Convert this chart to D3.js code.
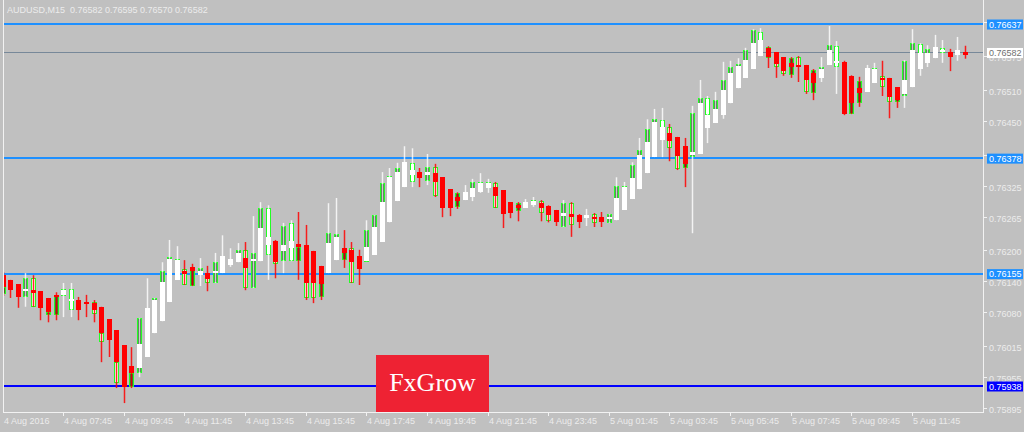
<!DOCTYPE html>
<html><head><meta charset="utf-8">
<script src="https://cdn.jsdelivr.net/npm/d3@7"></script>
<style>html,body{margin:0;padding:0;background:#c0c0c0;overflow:hidden}svg{display:block}</style>
</head><body>
<script>
// ---- data (AUDUSD M15) ----
const symbolTitle = "AUDUSD,M15  0.76582 0.76595 0.76570 0.76582";
const high = [0.76158,0.76143,0.76135,0.76156,0.76152,0.76121,0.76108,0.76119,0.76137,0.76137,0.76110,0.76114,0.76104,0.76091,0.76067,0.76046,0.76017,0.76013,0.76069,0.76146,0.76108,0.76177,0.76220,0.76208,0.76181,0.76174,0.76185,0.76170,0.76195,0.76229,0.76204,0.76214,0.76216,0.76266,0.76293,0.76287,0.76220,0.76253,0.76258,0.76274,0.76249,0.76199,0.76170,0.76291,0.76301,0.76239,0.76216,0.76201,0.76258,0.76268,0.76351,0.76359,0.76369,0.76401,0.76397,0.76359,0.76386,0.76367,0.76341,0.76318,0.76312,0.76326,0.76338,0.76349,0.76338,0.76332,0.76316,0.76293,0.76293,0.76299,0.76303,0.76297,0.76287,0.76278,0.76297,0.76293,0.76270,0.76280,0.76272,0.76274,0.76270,0.76341,0.76332,0.76370,0.76417,0.76453,0.76473,0.76475,0.76444,0.76419,0.76417,0.76479,0.76529,0.76498,0.76506,0.76564,0.76566,0.76571,0.76591,0.76627,0.76629,0.76594,0.76583,0.76573,0.76573,0.76575,0.76558,0.76550,0.76573,0.76633,0.76604,0.76566,0.76538,0.76535,0.76558,0.76562,0.76566,0.76533,0.76515,0.76567,0.76627,0.76600,0.76596,0.76616,0.76606,0.76589,0.76612,0.76595];
const low = [0.76112,0.76108,0.76089,0.76091,0.76091,0.76065,0.76061,0.76065,0.76071,0.76071,0.76065,0.76071,0.76061,0.75984,0.75994,0.75934,0.75905,0.75934,0.75955,0.75994,0.76040,0.76063,0.76100,0.76143,0.76133,0.76131,0.76131,0.76121,0.76137,0.76156,0.76168,0.76177,0.76123,0.76127,0.76179,0.76143,0.76146,0.76156,0.76179,0.76143,0.76104,0.76098,0.76104,0.76156,0.76181,0.76166,0.76137,0.76133,0.76179,0.76191,0.76216,0.76254,0.76295,0.76322,0.76322,0.76322,0.76326,0.76303,0.76264,0.76266,0.76280,0.76297,0.76295,0.76311,0.76311,0.76282,0.76243,0.76262,0.76256,0.76282,0.76284,0.76256,0.76254,0.76247,0.76245,0.76226,0.76243,0.76247,0.76245,0.76245,0.76253,0.76258,0.76278,0.76299,0.76318,0.76349,0.76380,0.76380,0.76372,0.76355,0.76322,0.76233,0.76386,0.76407,0.76446,0.76454,0.76484,0.76513,0.76533,0.76550,0.76575,0.76552,0.76533,0.76537,0.76533,0.76525,0.76502,0.76490,0.76525,0.76558,0.76502,0.76461,0.76463,0.76477,0.76506,0.76523,0.76498,0.76455,0.76475,0.76475,0.76515,0.76537,0.76554,0.76571,0.76562,0.76546,0.76566,0.76570];
// Heiken Ashi open / close
const haOpen = [0.76152,0.76143,0.76135,0.76121,0.76123,0.76121,0.76108,0.76114,0.76114,0.76102,0.76104,0.76100,0.76098,0.76091,0.76067,0.76046,0.76017,0.75977,0.75972,0.75994,0.76040,0.76063,0.76100,0.76143,0.76160,0.76168,0.76152,0.76156,0.76156,0.76156,0.76172,0.76177,0.76185,0.76179,0.76179,0.76210,0.76218,0.76199,0.76204,0.76212,0.76210,0.76199,0.76170,0.76156,0.76181,0.76204,0.76201,0.76189,0.76179,0.76191,0.76216,0.76254,0.76295,0.76322,0.76345,0.76351,0.76345,0.76349,0.76341,0.76318,0.76303,0.76297,0.76303,0.76312,0.76320,0.76322,0.76316,0.76293,0.76287,0.76282,0.76287,0.76291,0.76285,0.76278,0.76266,0.76270,0.76268,0.76262,0.76264,0.76264,0.76260,0.76258,0.76278,0.76299,0.76318,0.76349,0.76380,0.76413,0.76426,0.76419,0.76401,0.76384,0.76386,0.76436,0.76446,0.76461,0.76484,0.76513,0.76533,0.76550,0.76575,0.76591,0.76583,0.76573,0.76562,0.76558,0.76558,0.76542,0.76533,0.76558,0.76562,0.76564,0.76537,0.76513,0.76506,0.76523,0.76533,0.76533,0.76515,0.76502,0.76515,0.76550,0.76562,0.76571,0.76583,0.76583,0.76577,0.76583];
const haClose = [0.76129,0.76123,0.76110,0.76125,0.76118,0.76089,0.76081,0.76110,0.76123,0.76106,0.76085,0.76096,0.76085,0.76040,0.76027,0.75984,0.75936,0.75963,0.76019,0.76089,0.76104,0.76139,0.76183,0.76181,0.76154,0.76160,0.76160,0.76145,0.76160,0.76189,0.76183,0.76195,0.76166,0.76183,0.76243,0.76226,0.76177,0.76210,0.76218,0.76206,0.76137,0.76137,0.76135,0.76214,0.76226,0.76195,0.76177,0.76164,0.76206,0.76245,0.76293,0.76341,0.76351,0.76370,0.76355,0.76339,0.76351,0.76332,0.76282,0.76282,0.76295,0.76312,0.76320,0.76330,0.76330,0.76305,0.76270,0.76272,0.76282,0.76293,0.76295,0.76282,0.76268,0.76255,0.76272,0.76264,0.76255,0.76268,0.76260,0.76255,0.76264,0.76301,0.76322,0.76339,0.76384,0.76409,0.76448,0.76438,0.76411,0.76382,0.76367,0.76390,0.76484,0.76461,0.76473,0.76510,0.76542,0.76556,0.76567,0.76600,0.76606,0.76573,0.76560,0.76546,0.76554,0.76554,0.76529,0.76523,0.76550,0.76587,0.76566,0.76463,0.76484,0.76504,0.76552,0.76550,0.76529,0.76496,0.76490,0.76529,0.76587,0.76581,0.76581,0.76593,0.76587,0.76573,0.76587,0.76577];
// real candle open / close
const open = [0.76116,0.76139,0.76131,0.76110,0.76146,0.76118,0.76075,0.76075,0.76112,0.76125,0.76085,0.76098,0.76100,0.76040,0.76056,0.75984,0.75940,0.75936,0.75963,0.76069,0.76089,0.76108,0.76164,0.76177,0.76164,0.76131,0.76152,0.76156,0.76137,0.76162,0.76172,0.76177,0.76201,0.76127,0.76191,0.76282,0.76210,0.76179,0.76253,0.76179,0.76210,0.76195,0.76110,0.76172,0.76201,0.76181,0.76204,0.76185,0.76177,0.76210,0.76249,0.76297,0.76326,0.76336,0.76369,0.76349,0.76334,0.76361,0.76305,0.76301,0.76284,0.76299,0.76307,0.76316,0.76320,0.76330,0.76312,0.76289,0.76276,0.76284,0.76289,0.76295,0.76282,0.76274,0.76245,0.76291,0.76266,0.76262,0.76270,0.76262,0.76253,0.76262,0.76297,0.76316,0.76355,0.76384,0.76423,0.76452,0.76438,0.76413,0.76359,0.76380,0.76461,0.76494,0.76455,0.76471,0.76519,0.76533,0.76548,0.76567,0.76621,0.76593,0.76577,0.76567,0.76538,0.76573,0.76552,0.76504,0.76537,0.76564,0.76594,0.76558,0.76463,0.76484,0.76525,0.76538,0.76537,0.76529,0.76486,0.76498,0.76558,0.76598,0.76567,0.76575,0.76591,0.76581,0.76579,0.76582];
const close = [0.76129,0.76123,0.76110,0.76146,0.76091,0.76089,0.76081,0.76112,0.76125,0.76085,0.76098,0.76100,0.76077,0.76023,0.76027,0.75944,0.75959,0.75963,0.76069,0.76085,0.76108,0.76160,0.76187,0.76183,0.76133,0.76168,0.76166,0.76137,0.76177,0.76185,0.76181,0.76201,0.76127,0.76195,0.76282,0.76191,0.76174,0.76247,0.76179,0.76206,0.76108,0.76108,0.76150,0.76233,0.76231,0.76204,0.76137,0.76166,0.76239,0.76268,0.76330,0.76343,0.76359,0.76365,0.76332,0.76341,0.76361,0.76305,0.76282,0.76285,0.76310,0.76310,0.76332,0.76332,0.76332,0.76282,0.76274,0.76276,0.76291,0.76291,0.76297,0.76272,0.76256,0.76258,0.76291,0.76249,0.76256,0.76268,0.76253,0.76256,0.76270,0.76324,0.76324,0.76365,0.76394,0.76434,0.76453,0.76436,0.76398,0.76357,0.76374,0.76465,0.76494,0.76461,0.76490,0.76529,0.76554,0.76560,0.76587,0.76625,0.76604,0.76571,0.76554,0.76540,0.76571,0.76554,0.76506,0.76548,0.76554,0.76596,0.76554,0.76463,0.76500,0.76527,0.76552,0.76552,0.76515,0.76486,0.76500,0.76566,0.76600,0.76567,0.76589,0.76591,0.76581,0.76575,0.76585,0.76582];
// horizontal levels
const levels = [0.76637, 0.76378, 0.76155, 0.75938];
const bidPrice = 0.76582;
const priceTicks = [0.76640,0.76575,0.76510,0.76450,0.76385,0.76325,0.76265,0.76200,0.76140,0.76080,0.76015,0.75955,0.75895];
const timeTickIndex = [0,8,16,24,32,40,48,56,64,72,80,88,96,104,112,120];
const timeTickLabels = ["4 Aug 2016","4 Aug 07:45","4 Aug 09:45","4 Aug 11:45","4 Aug 13:45","4 Aug 15:45","4 Aug 17:45","4 Aug 19:45","4 Aug 21:45","4 Aug 23:45","5 Aug 01:45","5 Aug 03:45","5 Aug 05:45","5 Aug 07:45","5 Aug 09:45","5 Aug 11:45"];
const brand = "FxGrow";

// ---- drawing ----
const W = 1024, H = 432;
const L = 3, R = 983, T = 0, B = 412;
const FONT = "'Liberation Sans', Arial, sans-serif";
const TXT = "#ececec";

const svg = d3.select("body").append("svg").attr("width", W).attr("height", H);
svg.append("rect").attr("width", W).attr("height", H).attr("fill", "#c0c0c0");

const x = d3.scaleLinear().domain([8, 120]).range([63.2, 912]);
const y = d3.scaleLinear().domain([0.75938, 0.76637]).range([386, 24]);

svg.append("defs").append("clipPath").attr("id", "clip")
  .append("rect").attr("x", L + 1).attr("y", T).attr("width", R - L - 1).attr("height", B - T);

const fmt = d3.format(".5f");

// title
svg.append("text").attr("x", 7).attr("y", 13).attr("font-family", FONT).attr("font-size", 9)
  .attr("fill", TXT).attr("xml:space", "preserve").style("white-space", "pre").text(symbolTitle);

// level lines
const levelColor = ["#1e90ff", "#1e90ff", "#1e90ff", "#0000ff"];
const lv = svg.append("g");
levels.forEach((p, k) => {
  const yy = Math.round(y(p));
  lv.append("line").attr("x1", L).attr("x2", R).attr("y1", yy).attr("y2", yy)
    .attr("stroke", levelColor[k]).attr("stroke-width", 2);
});
const by = Math.round(y(bidPrice)) + 0.5;
lv.append("line").attr("x1", L).attr("x2", R).attr("y1", by).attr("y2", by)
  .attr("stroke", "#778899").attr("stroke-width", 1);

const n = high.length;
const idx = d3.range(n);
const cg = svg.append("g").attr("clip-path", "url(#clip)");

// real candles (behind)
idx.forEach(i => {
  const cx = Math.round(x(i));
  const top = Math.round(y(Math.max(open[i], close[i])));
  const bot = Math.round(y(Math.min(open[i], close[i])));
  const h = Math.max(bot - top, 1);
  const bull = close[i] >= open[i];
  cg.append("rect").attr("x", cx - 1.5).attr("y", top + 0.5).attr("width", 4).attr("height", Math.max(h - 1, 0.5))
    .attr("fill", bull ? "#3d6b3d" : "#ffffff").attr("stroke", "#22ff22").attr("stroke-width", 1);
  if (bull && h > 3) {
    cg.append("line").attr("x1", cx + 0.5).attr("x2", cx + 0.5).attr("y1", top + 1).attr("y2", bot - 1)
      .attr("stroke", "#000").attr("stroke-width", 1);
  }
});

// Heiken Ashi wicks + bodies
idx.forEach(i => {
  const cx = Math.round(x(i));
  const up = haClose[i] >= haOpen[i];
  const col = up ? "#ffffff" : "#ff0000";
  cg.append("line").attr("x1", cx + 0.5).attr("x2", cx + 0.5)
    .attr("y1", y(high[i])).attr("y2", y(low[i]))
    .attr("stroke", col).attr("stroke-width", 1.5).attr("stroke-opacity", up ? 0.8 : 0.85);
});
idx.forEach(i => {
  const cx = Math.round(x(i));
  const up = haClose[i] >= haOpen[i];
  const top = Math.round(y(Math.max(haOpen[i], haClose[i])));
  const bot = Math.round(y(Math.min(haOpen[i], haClose[i])));
  cg.append("rect").attr("x", cx - 2).attr("y", top).attr("width", 5).attr("height", Math.max(bot - top, 1.5))
    .attr("fill", up ? "#ffffff" : "#ff0000");
});

// frame
const fr = svg.append("g").attr("stroke", "#f2f2f2").attr("stroke-width", 1);
fr.append("line").attr("x1", L + 0.5).attr("x2", L + 0.5).attr("y1", T).attr("y2", B);
fr.append("line").attr("x1", R + 0.5).attr("x2", R + 0.5).attr("y1", T).attr("y2", B + 1);
fr.append("line").attr("x1", L).attr("x2", R + 1).attr("y1", B + 0.5).attr("y2", B + 0.5);

// price axis ticks
const pa = svg.append("g");
priceTicks.forEach(p => {
  const yy = Math.round(y(p)) + 0.5;
  pa.append("line").attr("x1", R).attr("x2", R + 4).attr("y1", yy).attr("y2", yy).attr("stroke", "#f2f2f2");
  pa.append("text").attr("x", 989).attr("y", yy + 4.5).attr("font-family", FONT).attr("font-size", 9)
    .attr("fill", TXT).text(fmt(p));
});

// level labels
const labelFill = ["#1e90ff", "#1e90ff", "#1e90ff", "#0000ff"];
function tag(p, bg, fg) {
  const yy = y(p);
  pa.append("rect").attr("x", 987).attr("y", yy - 4.5).attr("width", 36).attr("height", 10).attr("fill", bg);
  pa.append("text").attr("x", 989).attr("y", yy + 3.8).attr("font-family", FONT).attr("font-size", 9)
    .attr("fill", fg).text(fmt(p));
}
levels.forEach((p, k) => tag(p, labelFill[k], "#ffffff"));
tag(bidPrice, "#ffffff", "#707070");

// time axis
const ta = svg.append("g");
timeTickIndex.forEach((bi, k) => {
  const xx = Math.round(x(bi)) + 0.5;
  if (k > 0) ta.append("line").attr("x1", xx).attr("x2", xx).attr("y1", B).attr("y2", B + 4).attr("stroke", "#f2f2f2");
  ta.append("text").attr("x", k === 0 ? 4 : xx + 0.5).attr("y", 424).attr("font-family", FONT).attr("font-size", 9)
    .attr("fill", TXT).text(timeTickLabels[k]);
});

// brand box
const bx = 376, bw = 113, byt = 355;
svg.append("rect").attr("x", bx).attr("y", byt).attr("width", bw).attr("height", B - byt).attr("fill", "#ee2233");
svg.append("text").attr("x", bx + bw / 2).attr("y", 391).attr("text-anchor", "middle")
  .attr("font-family", "'Liberation Serif', 'Times New Roman', serif").attr("font-size", 26)
  .attr("fill", "#ffffff").text(brand);
</script>
</body></html>
